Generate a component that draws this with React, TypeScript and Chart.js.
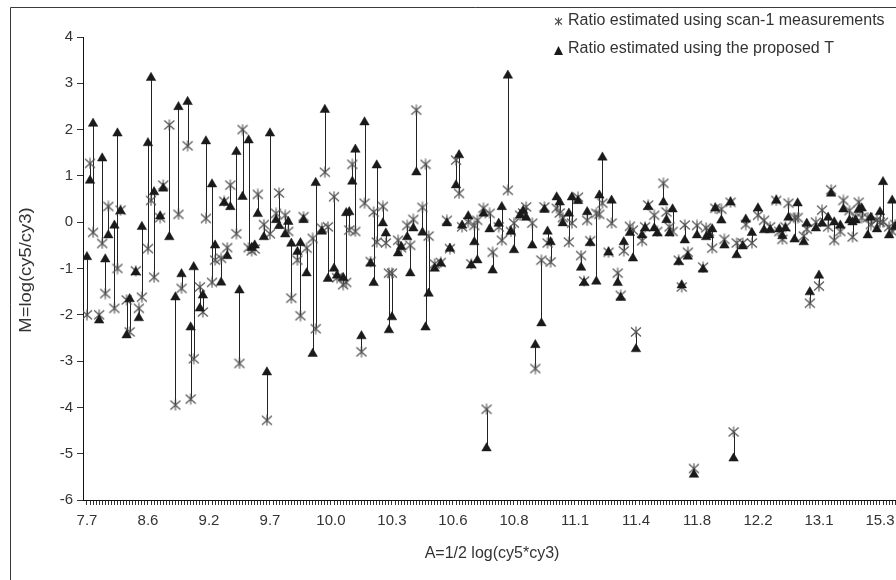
import { useEffect, useRef } from 'react';
import { Chart, registerables } from 'chart.js';

Chart.register(...registerables);

// Category axis labels (one every 20 categories)
const tickLabels = ['7.7', '8.6', '9.2', '9.7', '10.0', '10.3', '10.6', '10.8', '11.1', '11.4', '11.8', '12.2', '13.1', '15.3'];
const labelEvery = 20;
const categoryCount = 277;

// Category index of each observation
const categoryIndex = [
  0, 1, 2, 4, 5, 6, 7, 9, 10, 11, 13, 14, 16, 17, 18, 20, 21, 22, 24, 25,
  27, 29, 30, 31, 33, 34, 35, 37, 38, 39, 41, 42, 44, 45, 46, 47, 49, 50, 51, 53,
  54, 55, 56, 58, 59, 60, 62, 63, 65, 66, 67, 69, 70, 71, 72, 74, 75, 77, 78, 79,
  81, 82, 84, 85, 86, 87, 88, 90, 91, 93, 94, 95, 97, 98, 99, 100, 102, 103, 105, 106,
  107, 108, 110, 111, 112, 114, 116, 118, 119, 121, 122, 123, 125, 126, 127, 128, 130, 131, 132, 133,
  135, 136, 138, 139, 140, 142, 143, 144, 146, 147, 149, 150, 151, 152, 154, 155, 156, 158, 159, 161,
  162, 163, 164, 165, 167, 168, 169, 171, 172, 174, 175, 176, 178, 179, 180, 182, 183, 184, 186, 187,
  189, 190, 191, 192, 194, 195, 196, 197, 199, 200, 202, 203, 204, 205, 206, 208, 209, 211, 212, 213,
  215, 216, 218, 220, 222, 224, 226, 227, 228, 229, 230, 232, 233, 235, 236, 237, 239, 240, 241, 243,
  244, 245, 247, 248, 250, 251, 252, 253, 254, 256, 257, 259, 260, 261, 263, 264, 265,
];

// Ratio estimated using scan-1 measurements
const scanRatio = [
  -2.0, 1.27, -0.22, -2.0, -0.46, -1.54, 0.34, -1.86, -1.0, 0.26, -1.68, -2.37, -1.05, -1.86, -1.62, -0.57, 0.47, -1.19, 0.1, 0.8,
  2.1, -3.95, 0.17, -1.43, 1.65, -3.82, -2.95, -1.4, -1.94, 0.08, -1.3, -0.82, -0.78, 0.45, -0.55, 0.8, -0.25, -3.05, 2.0, -0.55,
  -0.62, -0.58, 0.6, -0.05, -4.28, -0.25, 0.19, 0.63, 0.15, -0.2, -1.64, -0.82, -2.02, 0.12, -0.56, -0.35, -2.3, -0.13, 1.08, -0.1,
  0.55, -1.2, -1.35, -1.3, -0.17, 1.25, -0.2, -2.8, 0.41, -0.85, 0.22, -0.43, 0.34, -0.45, -1.1, -1.1, -0.39, -0.55, -0.07, -0.5,
  0.06, 2.42, 0.32, 1.25, -0.3, -0.9, -0.87, 0.04, -0.57, 1.34, 0.62, -0.1, 0.0, -0.9, -0.07, 0.04, 0.3, -4.04, 0.19, -0.65,
  -0.1, -0.39, 0.69, -0.2, -0.02, 0.15, 0.2, 0.33, -0.02, -3.16, -0.82, 0.33, -0.45, -0.86, 0.3, 0.2, 0.1, -0.43, -0.02, 0.54,
  -0.72, -1.27, 0.04, -0.4, 0.19, 0.17, 0.41, -0.65, -0.02, -1.1, -1.58, -0.62, -0.09, -0.17, -2.37, -0.4, -0.1, 0.37, 0.15, -0.2,
  0.84, 0.22, -0.1, -0.2, -0.82, -1.4, -0.06, -0.65, -5.32, -0.07, -0.97, -0.12, -0.2, -0.56, 0.3, 0.28, -0.37, 0.43, -4.53, -0.45,
  -0.45, -0.05, -0.45, 0.15, 0.04, -0.1, 0.47, -0.2, -0.37, -0.1, 0.41, 0.1, 0.1, -0.3, -0.15, -1.75, 0.0, -1.38, 0.26, -0.1,
  0.7, -0.39, -0.2, 0.47, 0.25, -0.32, 0.1, 0.43, 0.1, 0.1, -0.05, 0.05, 0.0, 0.0, -0.1, -0.2, -0.05,
];

// Ratio estimated using the proposed T
const proposedRatio = [
  -0.75, 0.9, 2.13, -2.12, 1.38, -0.8, -0.28, -0.07, 1.92, 0.24, -2.44, -1.66, -1.08, -2.07, -0.1, 1.71, 3.12, 0.65, 0.13, 0.73,
  -0.32, -1.62, 2.49, -1.12, 2.6, -2.27, -0.97, -1.86, -1.58, 1.75, 0.82, -0.5, -1.3, 0.42, -0.73, 0.33, 1.52, -1.47, 0.55, 1.77,
  -0.55, -0.5, 0.18, -0.32, -3.24, 1.92, 0.05, -0.08, -0.26, 0.01, -0.46, -0.64, -0.45, 0.05, -1.1, -2.84, 0.85, -0.2, 2.43, -1.22,
  -1.0, -1.15, -1.2, 0.2, 0.22, 0.88, 1.57, -2.46, 2.16, -0.89, -1.31, 1.23, -0.02, -0.24, -2.33, -2.05, -0.67, -0.53, -0.32, -1.1,
  -0.13, 1.08, -0.22, -2.27, -1.54, -1.0, -0.89, -0.02, -0.57, 0.8, 1.45, -0.07, 0.13, -0.93, -0.43, -0.82, 0.19, -4.88, -0.15, -1.04,
  -0.03, 0.33, 3.17, -0.2, -0.6, 0.15, 0.25, 0.1, -0.5, -2.65, -2.18, 0.27, -0.2, -0.43, 0.54, 0.43, -0.02, 0.19, 0.54, 0.46,
  -0.98, -1.31, 0.22, -0.45, -1.28, 0.58, 1.4, -0.65, 0.47, -1.31, -1.63, -0.43, -0.23, -0.78, -2.74, -0.28, -0.13, 0.33, -0.13, -0.24,
  0.43, 0.05, -0.24, 0.28, -0.86, -1.36, -0.39, -0.74, -5.45, -0.28, -1.02, -0.32, -0.28, -0.15, 0.3, 0.04, -0.5, 0.43, -5.1, -0.71,
  -0.52, 0.06, -0.23, 0.3, -0.17, -0.17, 0.47, -0.15, -0.3, -0.13, 0.1, -0.37, 0.41, -0.43, -0.03, -1.51, -0.13, -1.15, -0.03, 0.1,
  0.62, 0.0, -0.07, 0.28, 0.04, 0.0, 0.04, 0.27, 0.3, -0.28, 0.1, -0.15, 0.22, 0.87, -0.28, 0.47, -0.1,
];

const legendScan = 'Ratio estimated using scan-1 measurements';
const legendProposed = 'Ratio estimated using the proposed T';
const xTitle = 'A=1/2 log(cy5*cy3)';
const yTitle = 'M=log(cy5/cy3)';

const FONT = '"Liberation Sans", Arial, Helvetica, sans-serif';
const TEXT = '#333333';

function makeAsterisk(size: number, color: string) {
  const c = document.createElement('canvas');
  c.width = size;
  c.height = size;
  const g = c.getContext('2d')!;
  g.strokeStyle = color;
  g.lineWidth = 1.1;
  const m = size / 2;
  g.beginPath();
  g.moveTo(1, 1.5);
  g.lineTo(size - 1, size - 1.5);
  g.moveTo(size - 1, 1.5);
  g.lineTo(1, size - 1.5);
  g.moveTo(m, 0.5);
  g.lineTo(m, size - 0.5);
  g.stroke();
  return c;
}

export default function App() {
  const ref = useRef<HTMLCanvasElement | null>(null);

  useEffect(() => {
    if (!ref.current) return;
    const asterisk = makeAsterisk(12, '#505050');
    const legendAsterisk = makeAsterisk(9, '#505050');

    const pairLines = {
      id: 'pairLines',
      beforeDatasetsDraw(chart: any) {
        const { ctx, scales, chartArea } = chart;
        const x = scales.x;
        const y = scales.y;
        ctx.save();
        ctx.beginPath();
        ctx.rect(chartArea.left, chartArea.top, chartArea.right - chartArea.left, chartArea.bottom - chartArea.top);
        ctx.clip();
        ctx.strokeStyle = '#222222';
        ctx.lineWidth = 1;
        ctx.beginPath();
        for (let i = 0; i < categoryIndex.length; i++) {
          const px = Math.round(x.getPixelForValue(categoryIndex[i])) + 0.5;
          ctx.moveTo(px, y.getPixelForValue(scanRatio[i]));
          ctx.lineTo(px, y.getPixelForValue(proposedRatio[i]));
        }
        ctx.stroke();
        ctx.restore();
      },
    };

    const decorations = {
      id: 'decorations',
      afterDraw(chart: any) {
        const { ctx } = chart;
        ctx.save();
        // outer chart border
        ctx.strokeStyle = '#3a3a3a';
        ctx.lineWidth = 1;
        ctx.beginPath();
        ctx.moveTo(10.5, 700);
        ctx.lineTo(10.5, 7.5);
        ctx.lineTo(1000, 7.5);
        ctx.stroke();

        // axis titles
        ctx.fillStyle = TEXT;
        ctx.font = `16px ${FONT}`;
        ctx.textAlign = 'center';
        ctx.textBaseline = 'middle';
        ctx.fillText(xTitle, 492, 554);
        ctx.save();
        ctx.translate(27, 270);
        ctx.rotate(-Math.PI / 2);
        ctx.scale(1.15, 1);
        ctx.fillText(yTitle, 0, 0);
        ctx.restore();

        // legend
        ctx.textAlign = 'left';
        ctx.fillText(legendScan, 568, 21);
        ctx.fillText(legendProposed, 568, 49);
        ctx.drawImage(legendAsterisk, 554, 17);
        ctx.fillStyle = '#1a1a1a';
        ctx.beginPath();
        ctx.moveTo(558.5, 46);
        ctx.lineTo(563, 55);
        ctx.lineTo(554, 55);
        ctx.closePath();
        ctx.fill();
        ctx.restore();
      },
    };

    const chart = new Chart(ref.current, {
      type: 'scatter',
      data: {
        datasets: [
          {
            label: legendProposed,
            data: categoryIndex.map((x, i) => ({ x, y: proposedRatio[i] })),
            pointStyle: 'triangle',
            pointRadius: 5.5,
            pointBackgroundColor: '#1a1a1a',
            pointBorderColor: '#1a1a1a',
            pointBorderWidth: 0.5,
            showLine: false,
            order: 0,
          },
          {
            label: legendScan,
            data: categoryIndex.map((x, i) => ({ x, y: scanRatio[i] })),
            pointStyle: asterisk as any,
            pointRadius: 6,
            showLine: false,
            order: 1,
          },
        ],
      },
      options: {
        animation: false,
        responsive: false,
        maintainAspectRatio: false,
        devicePixelRatio: 1,
        events: [],
        layout: { padding: { left: 0, top: 37, right: 10, bottom: 0 } },
        plugins: {
          legend: { display: false },
          tooltip: { enabled: false },
        },
        scales: {
          x: {
            type: 'linear',
            min: -1.3,
            max: 276.4,
            afterBuildTicks: (s: any) => {
              s.ticks = Array.from({ length: categoryCount }, (_, i) => ({ value: i }));
            },
            afterFit: (s: any) => {
              s.height = 100;
            },
            ticks: {
              autoSkip: false,
              maxRotation: 0,
              minRotation: 0,
              padding: 7,
              color: TEXT,
              font: { family: FONT, size: 15 },
              callback: (v: any) => (v % labelEvery === 0 ? tickLabels[v / labelEvery] ?? '' : ''),
            },
            grid: { drawOnChartArea: false, drawTicks: true, tickLength: 5, color: '#333333', lineWidth: 1 },
            border: { color: '#111111', width: 1 },
          },
          y: {
            type: 'linear',
            min: -6,
            max: 4,
            afterFit: (s: any) => {
              s.width = 83;
            },
            ticks: {
              stepSize: 1,
              padding: 4,
              color: TEXT,
              font: { family: FONT, size: 15 },
            },
            grid: { drawOnChartArea: false, drawTicks: true, tickLength: 6, color: '#333333' },
            border: { color: '#111111', width: 1 },
          },
        },
      },
      plugins: [pairLines, decorations],
    });
    return () => chart.destroy();
  }, []);

  return (
    <div style={{ position: 'absolute', left: 0, top: 0, width: 896, height: 580, overflow: 'hidden', background: '#ffffff' }}>
      <canvas ref={ref} width={940} height={600} style={{ width: 940, height: 600, display: 'block' }} />
    </div>
  );
}
